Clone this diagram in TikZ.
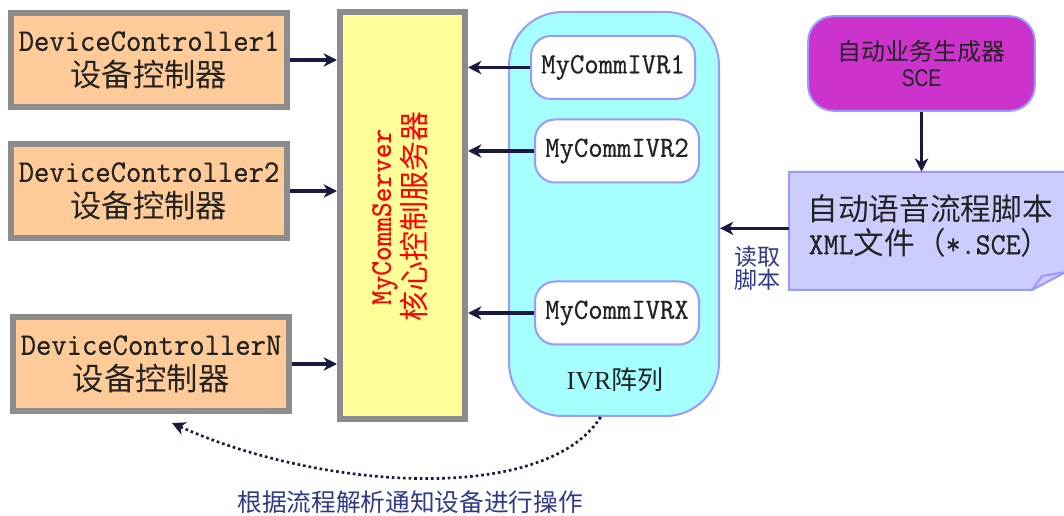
\documentclass[tikz,border=0pt]{standalone}
\usepackage{fontspec}
\usetikzlibrary{arrows.meta}
\newfontfamily\cjk{Noto Sans CJK SC}
\newfontfamily\lat[FakeStretch=0.95,FakeBold=0.6]{Latin Modern Mono}
\newfontfamily\latsans[FakeStretch=0.8]{Liberation Sans}
\newfontfamily\latserif{Liberation Serif}
\definecolor{peach}{HTML}{FFCC99}
\definecolor{graybd}{HTML}{8C8C8C}
\definecolor{srvfill}{HTML}{FFFF99}
\definecolor{ivrfill}{HTML}{A6FFFF}
\definecolor{lav}{HTML}{9999FF}
\definecolor{sceful}{HTML}{CC33CC}
\definecolor{docfill}{HTML}{CCCCFF}
\definecolor{arrowc}{HTML}{1A1A40}
\definecolor{navy}{HTML}{2E3A87}
\definecolor{txt}{HTML}{222222}
\begin{document}
\begin{tikzpicture}[x=0.75pt,y=-0.75pt,
  dcbox/.style={draw=graybd, line width=4.5pt, fill=peach, minimum width=207pt, minimum height=70.5pt, inner sep=0pt, align=center, text=txt, font=\fontsize{23.5}{26.5}\selectfont},
  ivrbox/.style={draw=lav, line width=1.5pt, fill=white, rounded corners=15pt, minimum width=123pt, minimum height=47.25pt, inner sep=0pt, text=txt, font=\lat\fontsize{22}{24}\selectfont},
  conn/.style={draw=arrowc, line width=2.3pt, -{Stealth[length=10pt,width=10pt,inset=3pt]}},
  dotconn/.style={draw=arrowc, line width=2pt, dash pattern=on 2pt off 2.2pt, -{Stealth[length=10pt,width=10pt,inset=3pt]}}
]
\useasboundingbox (0,0) rectangle (1064,516);

% device controllers
\node[dcbox] (dc1) at (149,60) {{\lat DeviceController1}\\{\cjk 设备控制器}};
\node[dcbox] (dc2) at (149,191) {{\lat DeviceController2}\\{\cjk 设备控制器}};
\node[dcbox] (dcn) at (151,364) {{\lat DeviceControllerN}\\{\cjk 设备控制器}};

% server
\node[draw=graybd, line width=4.5pt, fill=srvfill, minimum width=93.75pt, minimum height=305.25pt, inner sep=0pt] (srv) at (402.5,215.5) {};
\node[rotate=90, align=center, text=red, font=\fontsize{22.5}{26}\selectfont] (srvtxt) at (400,217) {{\lat MyCommServer}\\{\cjk 核心控制服务器}};

% IVR array
\node[draw=lav, line width=1.5pt, fill=ivrfill, rounded corners=40pt, minimum width=157.5pt, minimum height=303pt, inner sep=0pt] (ivr) at (614,214) {};
\node[ivrbox] (ivr1) at (613,67.5) {MyCommIVR1};
\node[ivrbox] (ivr2) at (617,151) {MyCommIVR2};
\node[ivrbox] (ivrx) at (617,313) {MyCommIVRX};
\node[text=txt, font=\fontsize{19.5}{22}\selectfont] (ivrlbl) at (615,380) {{\latserif IVR}{\cjk 阵列}};

% SCE
\node[draw=lav, line width=1.5pt, fill=sceful, rounded corners=19pt, minimum width=170pt, minimum height=71pt, inner sep=0pt, align=center, text=txt, font=\fontsize{18}{20}\selectfont] (sce) at (921.5,63.5) {{\cjk 自动业务生成器}\\{\latsans SCE}};

% document
\node[minimum width=206pt, minimum height=88.5pt, inner sep=0pt] (doc) at (926.5,231) {};
\draw[draw=lav, line width=1.5pt, fill=docfill] (789,172) -- (1066,172) -- (1066,272) -- (1032,290) -- (789,290) -- cycle;
\draw[draw=lav, line width=1.5pt] (1032,290) -- (1042,276) -- (1066,272);
\node[align=center, text=txt, font=\fontsize{23}{25}\selectfont] (doctxt) at (930,226) {{\cjk 自动语音流程脚本}\\{\lat XML}{\cjk 文件（}{\lat *.SCE}{\cjk ）}};

% connectors
\draw[conn] (dc1.east) -- (dc1.east -| srv.west);
\draw[conn] (dc2.east) -- (dc2.east -| srv.west);
\draw[conn] (dcn.east) -- (dcn.east -| srv.west);
\draw[conn] (ivr1.west) -- (ivr1.west -| srv.east);
\draw[conn] (ivr2.west) -- (ivr2.west -| srv.east);
\draw[conn] (ivrx.west) -- (ivrx.west -| srv.east);
\draw[conn] (sce.south) -- (sce.south |- doc.north);
\draw[conn] ([yshift=2pt]doc.west) -- ([yshift=2pt]doc.west -| ivr.east);
\node[align=center, text=navy, font=\cjk\fontsize{17.25}{17.5}\selectfont] (readlbl) at (757,268) {读取\\脚本};

\coordinate (dotend) at (172,423);
\draw[dotconn] ([xshift=-10pt]ivr.south) .. controls (545,505) and (320,490) .. (dotend);
\node[text=navy, font=\cjk\fontsize{18.5}{20}\selectfont] (botlbl) at (410,502) {根据流程解析通知设备进行操作};
\end{tikzpicture}
\end{document}
